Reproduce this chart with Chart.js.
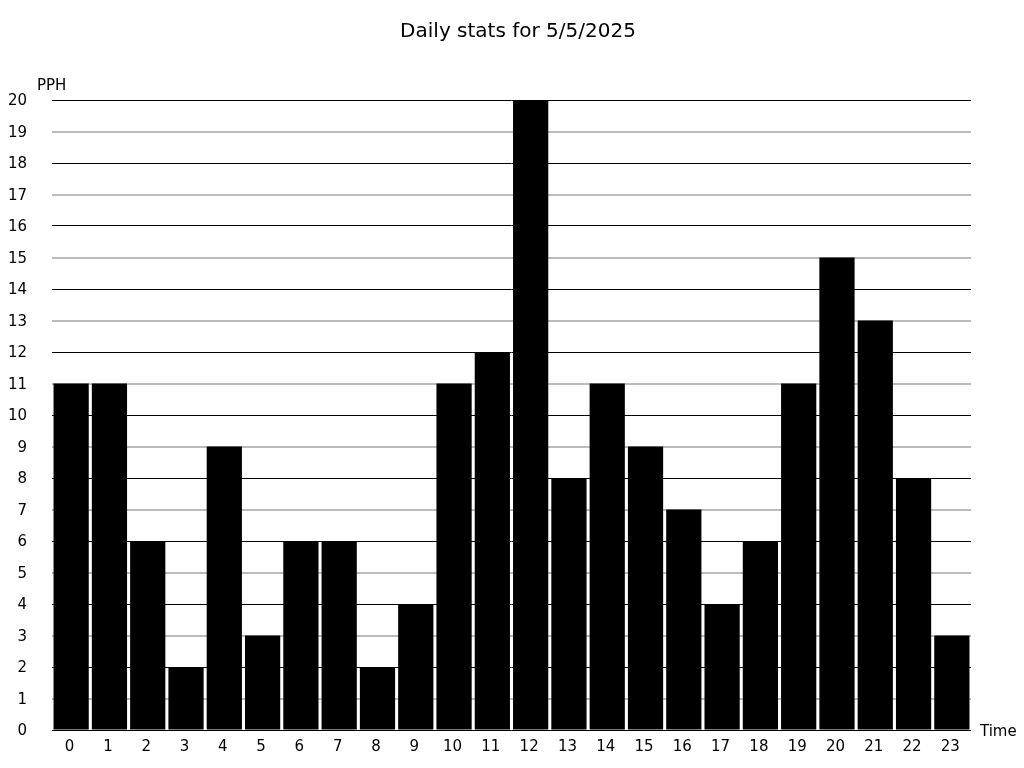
<!DOCTYPE html>
<html>
<head>
<meta charset="utf-8">
<script src="https://cdn.jsdelivr.net/npm/chart.js@4"></script>
<style>
html,body{margin:0;padding:0;background:#fff;}
#wrap{width:1024px;height:768px;position:relative;}
</style>
</head>
<body>
<div id="wrap"><canvas id="c" width="1024" height="768"></canvas></div>
<script>
const hours = ["0","1","2","3","4","5","6","7","8","9","10","11","12","13","14","15","16","17","18","19","20","21","22","23"];
const pph = [11,11,6,2,9,3,6,6,2,4,11,12,20,8,11,9,7,4,6,11,15,13,8,3];
const titleText = "Daily stats for 5/5/2025";
const yAxisLabel = "PPH";
const xAxisLabel = "Time";
const yMin = 0, yMax = 20;

const FONT = "'DejaVu Sans', sans-serif";

const textPlugin = {
  id: 'texts',
  afterDraw(chart) {
    const ctx = chart.ctx;
    const ca = chart.chartArea;
    ctx.save();
    ctx.fillStyle = '#000';
    ctx.font = "20px " + FONT;
    ctx.textAlign = 'center';
    ctx.textBaseline = 'middle';
    ctx.fillText(titleText, 518, 32);
    ctx.font = "15px " + FONT;
    ctx.textAlign = 'left';
    ctx.fillText(yAxisLabel, 37, 86);
    ctx.fillText(xAxisLabel, ca.right + 9, ca.bottom + 2);
    ctx.restore();
  }
};

new Chart(document.getElementById('c'), {
  type: 'bar',
  data: {
    labels: hours,
    datasets: [{
      data: pph,
      backgroundColor: '#000',
      borderWidth: 0,
      barPercentage: 0.92,
      categoryPercentage: 1.0
    }]
  },
  options: {
    responsive: false,
    animation: false,
    layout: { padding: { top: 100, right: 53, left: 0, bottom: 0 } },
    plugins: { legend: { display: false }, tooltip: { enabled: false }, title: { display: false } },
    scales: {
      x: {
        grid: { display: false, drawTicks: false },
        border: { display: false },
        ticks: { color: '#000', font: { family: FONT, size: 15 }, padding: 8, maxRotation: 0, autoSkip: false, labelOffset: -1.5 },
        afterFit(s) { s.height = 38; }
      },
      y: {
        min: yMin, max: yMax,
        grid: {
          drawTicks: false,
          color: (c) => (c.tick && c.tick.value % 2 === 0) ? '#000' : '#bbbbbb',
          lineWidth: (c) => (c.tick && c.tick.value % 2 === 0) ? 1 : 2
        },
        border: { display: false },
        ticks: { stepSize: 1, color: '#000', font: { family: FONT, size: 15 }, padding: 25, labelOffset: 1.5 },
        afterFit(s) { s.width = 52; }
      }
    }
  },
  plugins: [textPlugin]
});
</script>
</body>
</html>
